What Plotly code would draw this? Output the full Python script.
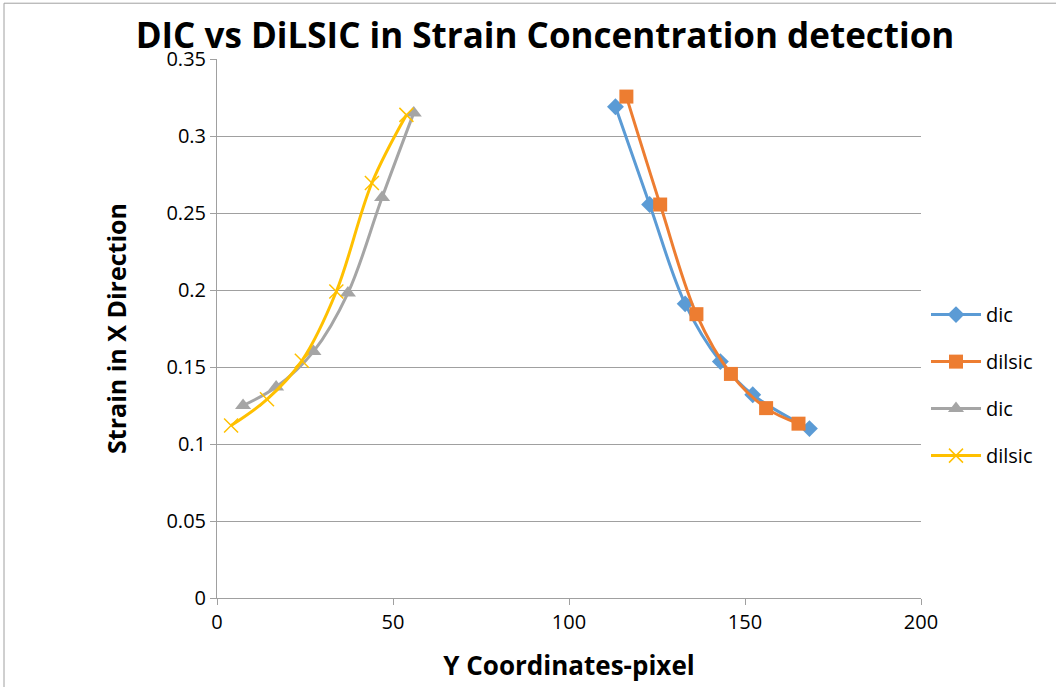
import plotly.graph_objects as go

# Data
dic1_x = [113.2, 122.9, 133.0, 143.0, 152.2, 168.3]
dic1_y = [0.319, 0.2555, 0.191, 0.1535, 0.132, 0.110]
dilsic1_x = [116.3, 125.9, 136.2, 146.0, 156.0, 165.2]
dilsic1_y = [0.3256, 0.2555, 0.1843, 0.1455, 0.1233, 0.1132]
dic2_x = [7.4, 16.8, 27.4, 37.2, 46.9, 55.9]
dic2_y = [0.125, 0.137, 0.160, 0.198, 0.260, 0.315]
dilsic2_x = [4.0, 14.2, 24.1, 33.9, 44.0, 53.8]
dilsic2_y = [0.112, 0.129, 0.154, 0.199, 0.2695, 0.3137]

FONT = "Open Sans"
W, H = 1056, 687
L, T, R, B = 217, 59, 135, 87
pw, ph = W - L - R, H - T - B


def px_x(p):
    return (p - L) / pw


def px_y(p):
    return (H - B - p) / ph


fig = go.Figure()
fig.add_trace(go.Scatter(x=dic1_x, y=dic1_y, name="dic", mode="lines+markers",
                         line=dict(color="#5B9BD5", width=3, shape="spline", smoothing=1.0),
                         marker=dict(symbol="diamond", size=13, color="#5B9BD5"),
                         legendgroup="a"))
fig.add_trace(go.Scatter(x=dilsic1_x, y=dilsic1_y, name="dilsic", mode="lines+markers",
                         line=dict(color="#ED7D31", width=3, shape="spline", smoothing=1.0),
                         marker=dict(symbol="square", size=14, color="#ED7D31"),
                         legendgroup="b"))
fig.add_trace(go.Scatter(x=dic2_x, y=dic2_y, name="dic", mode="lines+markers",
                         line=dict(color="#A5A5A5", width=3, shape="spline", smoothing=1.0),
                         marker=dict(symbol="triangle-up", size=14, color="#A5A5A5"),
                         legendgroup="c"))
fig.add_trace(go.Scatter(x=dilsic2_x, y=dilsic2_y, name="dilsic", mode="lines+markers",
                         line=dict(color="#FFC000", width=3, shape="spline", smoothing=1.0),
                         marker=dict(symbol="x-thin-open", size=14,
                                     line=dict(color="#FFC000", width=1.5)),
                         legendgroup="d"))

fig.update_layout(
    width=W, height=H,
    margin=dict(l=L, r=R, t=T, b=B),
    paper_bgcolor="white", plot_bgcolor="white",
    font=dict(family=FONT, color="black"),
    title=dict(text="<b>DIC vs DiLSIC in Strain Concentration detection</b>",
               x=545 / W, xanchor="center", y=1 - 36 / H, yanchor="middle",
               font=dict(size=35, family=FONT)),
    legend=dict(x=px_x(926), xanchor="left",
                y=px_y(296), yanchor="top",
                font=dict(size=20, family=FONT), tracegroupgap=18,
                itemwidth=50, bgcolor="rgba(0,0,0,0)"),
    showlegend=True,
)
fig.update_xaxes(range=[0, 200], dtick=50, tick0=0, showgrid=False, zeroline=False,
                 showline=True, linecolor="#A0A0A0", linewidth=1,
                 ticks="outside", ticklen=6, tickcolor="#A0A0A0",
                 tickfont=dict(size=20, family=FONT),
                 title=dict(text="<b>Y Coordinates-pixel</b>", font=dict(size=26, family=FONT),
                            standoff=22))
fig.update_yaxes(range=[0, 0.35], dtick=0.05, tick0=0, showgrid=True, gridcolor="#A0A0A0",
                 gridwidth=1, zeroline=False, showline=True, linecolor="#A0A0A0",
                 ticks="outside", ticklen=6, tickcolor="#A0A0A0",
                 tickfont=dict(size=20, family=FONT),
                 title=dict(text="<b>Strain in X Direction</b>", font=dict(size=25, family=FONT),
                            standoff=32))

# outer chart border
fig.add_shape(type="rect", xref="paper", yref="paper",
              x0=px_x(4), x1=px_x(W + 10),
              y0=px_y(H + 10), y1=px_y(3),
              line=dict(color="#A0A0A0", width=1), layer="below")

fig.write_html("out.html", config={"displayModeBar": False},
               post_script="document.body.style.margin='0';")
